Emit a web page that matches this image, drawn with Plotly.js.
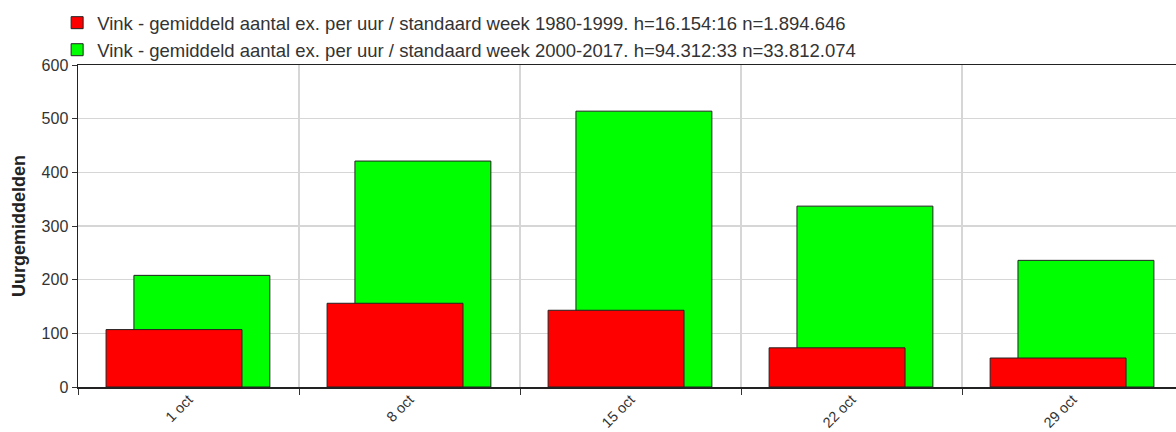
<!DOCTYPE html>
<html>
<head>
<meta charset="utf-8">
<script src="https://cdn.plot.ly/plotly-3.0.1.min.js"></script>
<style>html,body{margin:0;padding:0;background:#fff;}#chart{width:1176px;height:432px;}</style>
</head>
<body>
<div id="chart"></div>
<script>
const categories = ["1 oct", "8 oct", "15 oct", "22 oct", "29 oct"];
const values1980 = [107, 156, 143, 73, 54];
const values2000 = [208, 421, 514, 337, 236];
const name1980 = "Vink - gemiddeld aantal ex. per uur / standaard week 1980-1999. h=16.154:16 n=1.894.646";
const name2000 = "Vink - gemiddeld aantal ex. per uur / standaard week 2000-2017. h=94.312:33 n=33.812.074";
const yTicks = [0, 100, 200, 300, 400, 500, 600];

const fontFam = "Liberation Sans, Arial, sans-serif";
const traces = [
  {
    type: "bar", x: categories, y: values2000, name: name2000,
    width: 0.615, offset: -0.247,
    marker: {color: "#00ff00", line: {color: "#222", width: 1}}
  },
  {
    type: "bar", x: categories, y: values1980, name: name1980,
    width: 0.615, offset: -0.373,
    marker: {color: "#ff0000", line: {color: "#222", width: 1}}
  }
];
const layout = {
  width: 1176, height: 432,
  margin: {l: 78, r: 0, t: 65, b: 45, autoexpand: false},
  barmode: "overlay",
  paper_bgcolor: "#fff", plot_bgcolor: "#fff",
  font: {family: fontFam, color: "#333", size: 16},
  showlegend: true,
  legend: {
    traceorder: "reversed",
    x: -0.019, y: 1.189, xanchor: "left", yanchor: "top",
    font: {family: fontFam, size: 18.5, color: "#333"},
    itemwidth: 30, tracegroupgap: 0, bgcolor: "rgba(0,0,0,0)"
  },
  xaxis: {
    type: "category",
    range: [-0.5, 4.468],
    tickson: "boundaries",
    ticks: "outside", ticklen: 6, tickcolor: "#333",
    ticklabelstandoff: -3,
    showgrid: true, gridcolor: "#d6d6d6", gridwidth: 1.5,
    showline: true, linecolor: "#222", linewidth: 1.5, mirror: true,
    tickangle: -45,
    tickfont: {family: fontFam, size: 14.5, color: "#333"},
    zeroline: false, automargin: false
  },
  yaxis: {
    range: [0, 600],
    tickvals: yTicks,
    ticks: "outside", ticklen: 5, tickcolor: "#333",
    showgrid: true, gridcolor: "#d6d6d6", gridwidth: 1.5,
    showline: true, linecolor: "#222", linewidth: 1.5,
    zeroline: false, automargin: false,
    tickfont: {family: fontFam, size: 16, color: "#333"},
    title: {text: "<b>Uurgemiddelden</b>", font: {family: fontFam, size: 18, color: "#222"}, standoff: 11}
  }
};
Plotly.newPlot("chart", traces, layout, {displayModeBar: false, staticPlot: true});
</script>
</body>
</html>
